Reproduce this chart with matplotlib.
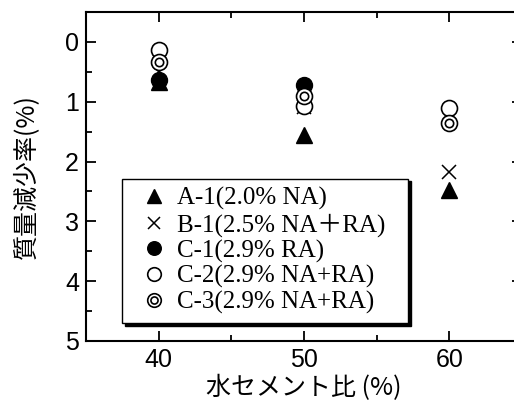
import numpy as np
import matplotlib
matplotlib.use('Agg')
import matplotlib.pyplot as plt
from matplotlib.legend_handler import HandlerTuple
from matplotlib.ticker import MultipleLocator

wc = [40, 50, 60]
a1 = [0.67, 1.56, 2.47]
b1 = [0.50, 1.08, 2.18]
c1 = [0.63, 0.72, np.nan]
c2 = [0.13, 1.07, 1.10]
c3 = [0.34, 0.91, 1.36]

labels = ['A-1(2.0% NA)', 'B-1(2.5% NA＋RA)', 'C-1(2.9% RA)',
          'C-2(2.9% NA+RA)', 'C-3(2.9% NA+RA)']

fig = plt.figure(figsize=(5.14, 4.05), dpi=100)
ax = fig.add_axes([86/514, 1-341/405, 436/514, 329/405])

ms = 11.5
h1, = ax.plot(wc, a1, '^', color='k', ms=ms, ls='none', zorder=3)
h2, = ax.plot(wc, b1, 'x', color='k', ms=10, mew=1.1, ls='none', zorder=4)
h3, = ax.plot(wc, c1, 'o', color='k', ms=ms, ls='none', zorder=5)
h4, = ax.plot(wc, c2, 'o', mfc='white', mec='k', mew=1.2, ms=ms, ls='none', zorder=6)
h5a, = ax.plot(wc, c3, 'o', mfc='white', mec='k', mew=1.2, ms=ms, ls='none', zorder=7)
h5b, = ax.plot(wc, c3, 'o', mfc='white', mec='k', mew=1.2, ms=6, ls='none', zorder=8)

ax.set_xlim(35, 65)
ax.set_ylim(5, -0.5)
ax.xaxis.set_major_locator(MultipleLocator(10))
ax.xaxis.set_minor_locator(MultipleLocator(5))
ax.yaxis.set_major_locator(MultipleLocator(1))
ax.yaxis.set_minor_locator(MultipleLocator(0.5))
ax.tick_params(which='both', direction='in', top=True, right=True, width=1.3)
ax.tick_params(which='major', length=7, labelsize=18, pad=5)
ax.tick_params(which='minor', length=4)
for s in ax.spines.values():
    s.set_linewidth(1.5)
for t in ax.get_xticklabels() + ax.get_yticklabels():
    t.set_family('Liberation Sans')

ax.set_xlabel('水セメント比 (%)', family=['Noto Sans CJK JP', 'DejaVu Sans'], fontsize=18, labelpad=2)
ax.set_ylabel('質量減少率(%)', family=['Noto Sans CJK JP', 'DejaVu Sans'], fontsize=18)
ax.yaxis.set_label_coords(-0.108, 0.5)

leg = ax.legend([h1, h2, h3, h4, (h5a, h5b)], labels,
                handler_map={tuple: HandlerTuple(ndivide=1, pad=0)},
                loc='lower left', bbox_to_anchor=(0.0826, 0.0547, 0.656, 0.3),
                mode='expand', borderaxespad=0,
                prop={'family': ['Liberation Serif', 'Noto Sans CJK JP'], 'size': 18},
                frameon=True, fancybox=False, edgecolor='k', framealpha=1,
                shadow={'color': 'k', 'alpha': 1}, handlelength=1.86,
                handletextpad=0.0, labelspacing=0.11, borderpad=0.35, markerscale=0.85)
leg.get_frame().set_linewidth(1.0)
leg.set_zorder(10)

fig.savefig('out.png', dpi=100)
